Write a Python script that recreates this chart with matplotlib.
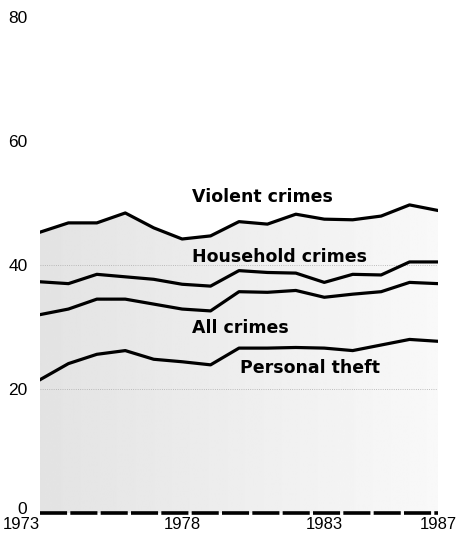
import matplotlib
matplotlib.use("Agg")
import matplotlib.pyplot as plt
import matplotlib.transforms as mtransforms
import numpy as np

plt.rcParams['font.family'] = ['Liberation Sans', 'DejaVu Sans']

years = list(range(1973, 1988))
violent = [45.3, 46.8, 46.8, 48.4, 46.0, 44.2, 44.7, 47.0, 46.6, 48.2, 47.4, 47.3, 47.9, 49.7, 48.8]
household = [37.3, 37.0, 38.5, 38.1, 37.7, 36.9, 36.6, 39.1, 38.8, 38.7, 37.2, 38.5, 38.4, 40.5, 40.5]
all_crimes = [32.0, 32.9, 34.5, 34.5, 33.7, 32.9, 32.6, 35.7, 35.6, 35.9, 34.8, 35.3, 35.7, 37.2, 37.0]
personal_theft = [21.5, 24.1, 25.6, 26.2, 24.8, 24.4, 23.9, 26.6, 26.6, 26.7, 26.6, 26.2, 27.1, 28.0, 27.7]

series_labels = ["Violent crimes", "Household crimes", "All crimes", "Personal theft"]
label_pos = [(1978.35, 51.0), (1978.35, 41.3), (1978.35, 29.8), (1980.05, 23.4)]

yticks = [0, 20, 40, 60, 80]
xticks = [1973, 1978, 1983, 1987]

fig = plt.figure(figsize=(4.58, 5.35), dpi=100)
ax = fig.add_axes([0.0873, 0.0411, 0.869, 0.927])

# stippled-looking shading under the top line, darker on the left
poly = ax.fill_between(years, 0, violent, color='none', lw=0)
grad = np.linspace(0.89, 0.975, 256).reshape(1, -1)
im = ax.imshow(grad, cmap='gray', vmin=0, vmax=1, aspect='auto',
               extent=[1973, 1987, 0, 52], zorder=0, interpolation='bilinear')
im.set_clip_path(poly.get_paths()[0], transform=ax.transData)

for yy in (20, 40):
    ax.plot([1973, 1987], [yy, yy], color='#aaaaaa', lw=0.6, ls=':', zorder=1)

for s in (violent, household, all_crimes, personal_theft):
    ax.plot(years, s, color='black', lw=2.3, solid_joinstyle='round', zorder=3)

for txt, (lx, ly) in zip(series_labels, label_pos):
    ax.text(lx, ly, txt, fontsize=12.5, fontweight='bold', ha='left', va='center',
            family=['DejaVu Sans'], zorder=4)

ax.plot([1973, 1987], [0, 0], color='black', lw=2.6, ls=(0, (7.5, 0.9)), zorder=3, clip_on=False)

ax.set_xlim(1973, 1987)
ax.set_ylim(0, 80)
ax.set_yticks(yticks)
ax.set_xticks(xticks)
ax.set_yticklabels([str(v) for v in yticks], fontsize=12.5)
ax.set_xticklabels([str(v) for v in xticks], fontsize=12)
ax.tick_params(length=0)
ax.tick_params(axis='x', pad=3)
ax.tick_params(axis='y', pad=9)
ax.get_xticklabels()[0].set_ha('right')
lab0 = ax.get_yticklabels()[0]
lab0.set_va('center')
lab0.set_transform(lab0.get_transform() + mtransforms.ScaledTranslation(0, 4 / 100, fig.dpi_scale_trans))
for sp in ax.spines.values():
    sp.set_visible(False)

fig.savefig("out.png", dpi=100)
